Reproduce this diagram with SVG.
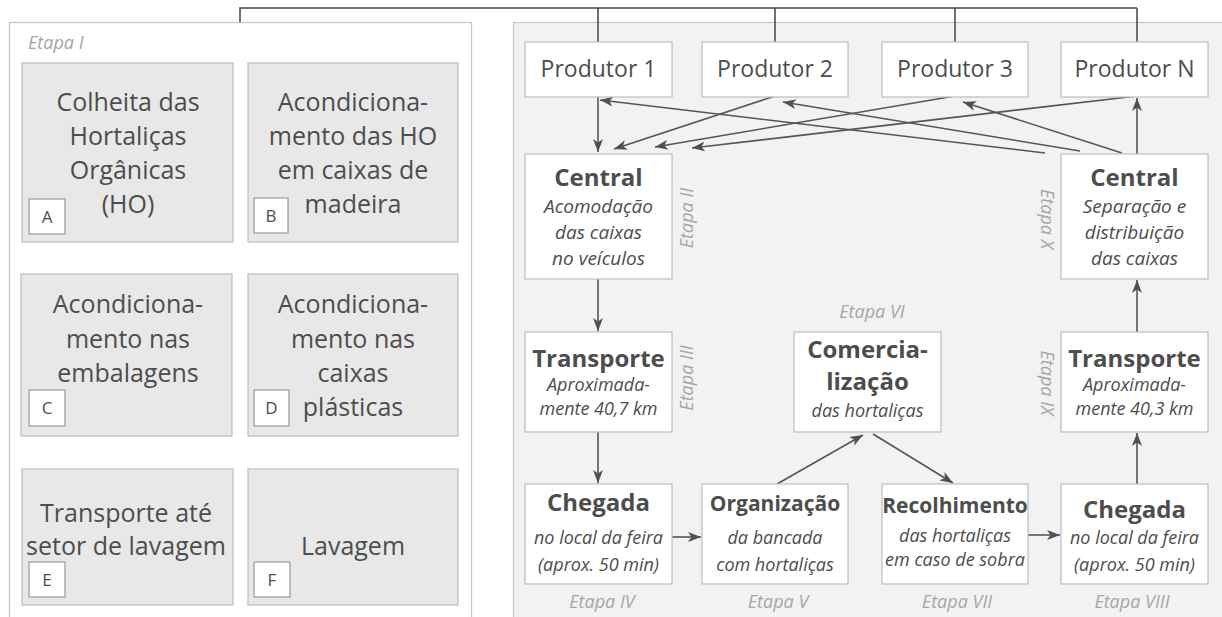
<svg xmlns="http://www.w3.org/2000/svg" width="1222" height="617" viewBox="0 0 1222 617">
<defs>
<marker id="ah" viewBox="0 0 13 10" refX="13" refY="5" markerWidth="13" markerHeight="10" markerUnits="userSpaceOnUse" orient="auto">
<path d="M0,0 L13,5 L0,10 L3.5,5 z" fill="#505050"/>
</marker>
<style>
text{font-family:'Open Sans','Noto Sans',sans-serif;fill:#4d4d4d;text-anchor:middle}
.panelL{fill:#ffffff;stroke:#c8c8c8;stroke-width:1.3}
.panelR{fill:#f2f2f2;stroke:#c8c8c8;stroke-width:1.3}
.gbox{fill:#e8e8e8;stroke:#bdbdbd;stroke-width:1.2}
.wbox{fill:#ffffff;stroke:#bdbdbd;stroke-width:1.2}
.lbl{fill:#ffffff;stroke:#9a9a9a;stroke-width:1.2}
.lt{font-size:25px}
.let{font-size:17px}
.prod{font-size:23px}
.hd{font-size:24px;font-weight:bold}
.hds{font-size:21px;font-weight:bold}
.it{font-size:18px;font-style:italic}
.itb{font-size:19px;font-style:italic}
.et{font-size:18px;font-style:italic;fill:#a6a6a6}
.top{fill:none;stroke:#444;stroke-width:1.5}
.con{fill:none;stroke:#555;stroke-width:1.6;marker-end:url(#ah)}
</style>
</defs>

<rect class="panelL" x="9.5" y="22.5" width="462" height="620"/>
<rect class="panelR" x="513.5" y="22.5" width="720" height="620"/>
<text class="et" x="28" y="49" style="text-anchor:start">Etapa I</text>

<g id="connectors">
<path class="top" d="M240,22 V8 H1137 M598,8 V42 M775,8 V42 M955,8 V42 M1137,8 V42"/>
<line class="con" x1="598" y1="97" x2="598" y2="152"/>
<line class="con" x1="775" y1="96" x2="614" y2="149"/>
<line class="con" x1="955" y1="96" x2="655" y2="147"/>
<line class="con" x1="1137" y1="96" x2="692" y2="148"/>
<line class="con" x1="1045" y1="153" x2="600" y2="100"/>
<line class="con" x1="1080" y1="151" x2="783" y2="102"/>
<line class="con" x1="1122" y1="153" x2="963" y2="102"/>
<line class="con" x1="1137" y1="154" x2="1137" y2="98"/>
<line class="con" x1="598" y1="279" x2="598" y2="331"/>
<line class="con" x1="598" y1="432" x2="598" y2="483"/>
<line class="con" x1="672" y1="537" x2="701" y2="537"/>
<line class="con" x1="777" y1="484" x2="863" y2="435"/>
<line class="con" x1="873" y1="434" x2="953" y2="483"/>
<line class="con" x1="1028" y1="535" x2="1060" y2="535"/>
<line class="con" x1="1137" y1="484" x2="1137" y2="433"/>
<line class="con" x1="1137" y1="332" x2="1137" y2="280"/>
</g>

<g id="A">
<rect class="gbox" x="22" y="63" width="211" height="179"/>
<text class="lt" x="128" y="111">Colheita das</text>
<text class="lt" x="128" y="145">Hortaliças</text>
<text class="lt" x="128" y="179">Orgânicas</text>
<text class="lt" x="128" y="213">(HO)</text>
<rect class="lbl" x="29" y="199" width="36" height="35"/>
<text class="let" x="47" y="223">A</text>
</g>
<g id="B">
<rect class="gbox" x="248" y="63" width="210" height="179"/>
<text class="lt" x="353" y="111">Acondiciona-</text>
<text class="lt" x="353" y="145">mento das HO</text>
<text class="lt" x="353" y="179">em caixas de</text>
<text class="lt" x="353" y="213">madeira</text>
<rect class="lbl" x="254" y="198" width="34" height="35"/>
<text class="let" x="271" y="222">B</text>
</g>
<g id="C">
<rect class="gbox" x="21" y="274" width="211" height="162"/>
<text class="lt" x="128" y="313">Acondiciona-</text>
<text class="lt" x="128" y="348">mento nas</text>
<text class="lt" x="128" y="382">embalagens</text>
<rect class="lbl" x="29" y="390" width="36" height="36"/>
<text class="let" x="47" y="414">C</text>
</g>
<g id="D">
<rect class="gbox" x="248" y="274" width="210" height="162"/>
<text class="lt" x="353" y="313">Acondiciona-</text>
<text class="lt" x="353" y="348">mento nas</text>
<text class="lt" x="353" y="382">caixas</text>
<text class="lt" x="353" y="416">plásticas</text>
<rect class="lbl" x="254" y="390" width="35" height="36"/>
<text class="let" x="271.5" y="414">D</text>
</g>
<g id="E">
<rect class="gbox" x="22" y="469" width="211" height="136"/>
<text class="lt" x="126" y="522">Transporte até</text>
<text class="lt" x="126" y="555">setor de lavagem</text>
<rect class="lbl" x="29" y="562" width="36" height="35"/>
<text class="let" x="47" y="586">E</text>
</g>
<g id="F">
<rect class="gbox" x="248" y="469" width="210" height="136"/>
<text class="lt" x="353" y="555">Lavagem</text>
<rect class="lbl" x="254" y="562" width="36" height="35"/>
<text class="let" x="272" y="586">F</text>
</g>

<g id="produtor1">
<rect class="wbox" x="525" y="42" width="147" height="55"/>
<text class="prod" x="598.5" y="77">Produtor 1</text>
</g>
<g id="produtor2">
<rect class="wbox" x="702" y="42" width="146" height="55"/>
<text class="prod" x="775" y="77">Produtor 2</text>
</g>
<g id="produtor3">
<rect class="wbox" x="882" y="42" width="146" height="55"/>
<text class="prod" x="955" y="77">Produtor 3</text>
</g>
<g id="produtorN">
<rect class="wbox" x="1061" y="42" width="147" height="55"/>
<text class="prod" x="1134.5" y="77">Produtor N</text>
</g>

<g id="central1">
<rect class="wbox" x="525" y="154" width="147" height="125"/>
<text class="hd" x="598.5" y="186">Central</text>
<text class="itb" x="598.5" y="213">Acomodação</text>
<text class="itb" x="598.5" y="239">das caixas</text>
<text class="itb" x="598.5" y="265">no veículos</text>
<text class="et" transform="translate(693,218) rotate(-90)">Etapa II</text>
</g>
<g id="central2">
<rect class="wbox" x="1061" y="154" width="147" height="125"/>
<text class="hd" x="1134.5" y="186">Central</text>
<text class="itb" x="1134.5" y="213">Separação e</text>
<text class="itb" x="1134.5" y="239">distribuição</text>
<text class="itb" x="1134.5" y="265">das caixas</text>
<text class="et" transform="translate(1041,219) rotate(90)">Etapa X</text>
</g>

<g id="transporte1">
<rect class="wbox" x="525" y="332" width="147" height="100"/>
<text class="hd" x="598.5" y="367">Transporte</text>
<text class="it" x="598.5" y="391">Aproximada-</text>
<text class="it" x="598.5" y="415">mente 40,7 km</text>
<text class="et" transform="translate(693,378) rotate(-90)">Etapa III</text>
</g>
<g id="transporte2">
<rect class="wbox" x="1061" y="332" width="147" height="100"/>
<text class="hd" x="1134.5" y="367">Transporte</text>
<text class="it" x="1134.5" y="391">Aproximada-</text>
<text class="it" x="1134.5" y="415">mente 40,3 km</text>
<text class="et" transform="translate(1041,383) rotate(90)">Etapa IX</text>
</g>

<g id="comercializacao">
<rect class="wbox" x="794" y="332" width="147" height="100"/>
<text class="hd" x="867.5" y="358">Comercia-</text>
<text class="hd" x="867.5" y="390">lização</text>
<text class="it" x="867.5" y="417">das hortaliças</text>
<text class="et" x="872" y="318">Etapa VI</text>
</g>

<g id="chegada1">
<rect class="wbox" x="525" y="484" width="147" height="100"/>
<text class="hd" x="598.5" y="511">Chegada</text>
<text class="it" x="598.5" y="544">no local da feira</text>
<text class="it" x="598.5" y="571">(aprox. 50 min)</text>
<text class="et" x="602" y="608">Etapa IV</text>
</g>
<g id="organizacao">
<rect class="wbox" x="702" y="484" width="146" height="100"/>
<text class="hds" x="775" y="511">Organização</text>
<text class="it" x="775" y="544">da bancada</text>
<text class="it" x="775" y="571">com hortaliças</text>
<text class="et" x="778" y="608">Etapa V</text>
</g>
<g id="recolhimento">
<rect class="wbox" x="882" y="484" width="146" height="100"/>
<text class="hds" x="955" y="513">Recolhimento</text>
<text class="it" x="955" y="542">das hortaliças</text>
<text class="it" x="955" y="566">em caso de sobra</text>
<text class="et" x="957" y="608">Etapa VII</text>
</g>
<g id="chegada2">
<rect class="wbox" x="1061" y="484" width="147" height="100"/>
<text class="hd" x="1134.5" y="518">Chegada</text>
<text class="it" x="1134.5" y="544">no local da feira</text>
<text class="it" x="1134.5" y="571">(aprox. 50 min)</text>
<text class="et" x="1132" y="608">Etapa VIII</text>
</g>
</svg>
